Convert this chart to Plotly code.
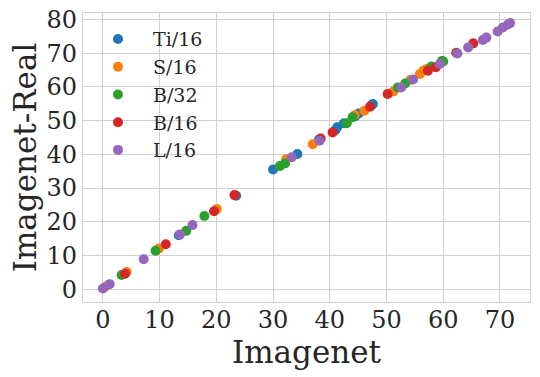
import plotly.graph_objects as go

# Imagenet top-1 vs Imagenet-Real top-1
ti16_x = [13.4, 23.5, 30.0, 34.3, 38.1, 41.0, 41.3, 42.5, 44.5, 45.1, 47.4, 47.6]
ti16_y = [16.0, 27.7, 35.5, 40.1, 44.4, 47.2, 48.0, 49.2, 51.3, 52.1, 54.6, 54.9]

s16_x = [0.5, 4.2, 9.9, 20.1, 32.3, 37.0, 44.4, 46.1, 51.2, 54.2, 55.9, 56.5, 57.0]
s16_y = [0.8, 5.1, 12.1, 23.8, 38.5, 43.0, 51.6, 52.9, 58.6, 62.0, 63.8, 64.8, 65.2]

b32_x = [3.3, 9.3, 14.7, 17.9, 31.2, 32.1, 43.0, 44.0, 52.0, 53.3, 57.9, 59.8, 60.0]
b32_y = [4.2, 11.4, 17.3, 21.7, 36.5, 37.3, 49.2, 51.0, 59.8, 61.0, 66.0, 67.7, 67.5]

b16_x = [3.9, 11.1, 19.6, 23.2, 38.4, 40.5, 47.1, 50.2, 57.3, 58.7, 62.3, 65.3]
b16_y = [4.6, 13.3, 23.1, 27.9, 44.7, 46.5, 54.1, 57.9, 64.8, 65.8, 70.1, 72.9]

l16_x = [0.0, 1.2, 7.2, 13.6, 15.8, 33.3, 38.2, 52.6, 54.7, 59.4, 62.5, 64.4,
         67.0, 67.6, 69.6, 70.5, 71.4, 71.8]
l16_y = [0.2, 1.5, 8.9, 16.2, 19.0, 39.1, 44.0, 59.8, 62.2, 66.8, 69.9, 71.7,
         73.9, 74.6, 76.4, 77.6, 78.5, 78.9]

series = [
    ('Ti/16', ti16_x, ti16_y, '#1f77b4'),
    ('S/16', s16_x, s16_y, '#ff7f0e'),
    ('B/32', b32_x, b32_y, '#2ca02c'),
    ('B/16', b16_x, b16_y, '#d62728'),
    ('L/16', l16_x, l16_y, '#9467bd'),
]

font = 'DejaVu Serif'
grid = '#d0d0d0'

fig = go.Figure()
for name, xs, ys, col in series:
    fig.add_trace(go.Scatter(x=xs, y=ys, mode='markers', name=name,
                             marker=dict(size=10, color=col, line=dict(width=0))))

fig.update_layout(
    width=540, height=377,
    margin=dict(l=83, r=10, t=13, b=75),
    paper_bgcolor='white', plot_bgcolor='white',
    font=dict(family=font, color='#262626'),
    showlegend=True,
    legend=dict(x=0.0, y=0.975, xanchor='left', yanchor='top',
                bgcolor='rgba(0,0,0,0)', font=dict(size=19, family=font),
                itemwidth=60),
)

fig.update_xaxes(range=[-3.5, 75.3], tickvals=[0, 10, 20, 30, 40, 50, 60, 70],
                 showgrid=True, gridcolor=grid, gridwidth=1.2,
                 showline=True, linecolor=grid, linewidth=1.2, mirror=True,
                 zeroline=False, ticks='', tickfont=dict(size=24), automargin=False,
                 ticklabeloverflow='allow', ticklabelstandoff=-4,
                 title=dict(text='Imagenet', font=dict(size=31), standoff=0))
fig.update_yaxes(range=[-3.8, 81.9], tickvals=[0, 10, 20, 30, 40, 50, 60, 70, 80],
                 showgrid=True, gridcolor=grid, gridwidth=1.2,
                 showline=True, linecolor=grid, linewidth=1.2, mirror=True,
                 zeroline=False, ticks='', tickfont=dict(size=24), automargin=False,
                 ticklabeloverflow='allow',
                 title=dict(text='Imagenet-Real', font=dict(size=31), standoff=0))

# drop the default 8px body margin so the figure fills the window
fig.write_html('out.html', config={'displayModeBar': False},
               post_script="document.body.style.margin='0';")
